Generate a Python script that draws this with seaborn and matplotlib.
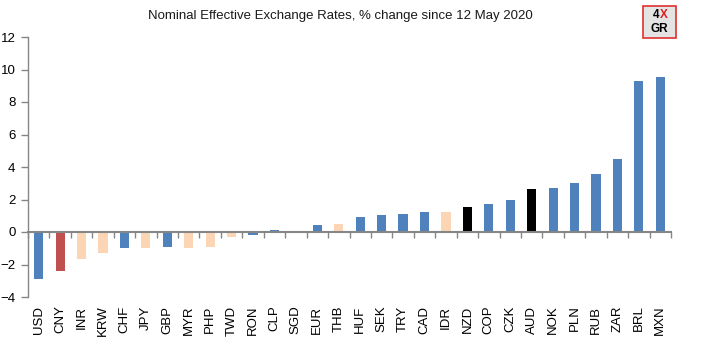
import matplotlib
matplotlib.use("Agg")
import matplotlib.pyplot as plt
import matplotlib.patches as mpatches
import seaborn as sns
import pandas as pd
import numpy as np

sns.set_theme(style="white")
plt.rcParams["font.family"] = ["Liberation Sans", "DejaVu Sans"]

currencies = ["USD", "CNY", "INR", "KRW", "CHF", "JPY", "GBP", "MYR", "PHP", "TWD",
              "RON", "CLP", "SGD", "EUR", "THB", "HUF", "SEK", "TRY", "CAD", "IDR",
              "NZD", "COP", "CZK", "AUD", "NOK", "PLN", "RUB", "ZAR", "BRL", "MXN"]
pct_change = [-2.92, -2.38, -1.64, -1.31, -0.96, -0.96, -0.90, -0.96, -0.90, -0.28,
              -0.16, 0.10, 0.08, 0.45, 0.51, 0.94, 1.07, 1.13, 1.23, 1.23,
              1.56, 1.74, 1.99, 2.67, 2.72, 3.03, 3.60, 4.52, 9.29, 9.54]
groups = ["g", "r", "a", "a", "g", "a", "g", "a", "a", "a",
          "g", "g", "a", "g", "a", "g", "g", "g", "g", "a",
          "k", "g", "g", "k", "g", "g", "g", "g", "g", "g"]
group_colors = {"g": "#4F81BD", "r": "#C0504D", "a": "#FCD5B4", "k": "#000000"}

df = pd.DataFrame({"ccy": currencies, "chg": pct_change, "grp": groups})

fig = plt.figure(figsize=(7.13, 3.42), dpi=100)
W, H = 713, 342
ax = fig.add_axes([28 / W, 1 - 297 / H, (671 - 28) / W, (297 - 37) / H])

sns.barplot(data=df, x="ccy", y="chg", hue="grp", palette=group_colors,
            dodge=False, width=0.43, legend=False, ax=ax, saturation=1,
            linewidth=0, edgecolor="none", zorder=2)

ax.set_ylim(-4, 12)
ax.set_xlim(-0.5, len(currencies) - 0.5)
ax.set_yticks(np.arange(-4, 13, 2))
ax.set_xlabel("")
ax.set_ylabel("")

axis_gray = "#868686"
for side in ["top", "right"]:
    ax.spines[side].set_visible(False)
ax.spines["left"].set_color(axis_gray)
ax.spines["left"].set_linewidth(1.0)
ax.spines["bottom"].set_position(("data", 0))
ax.spines["bottom"].set_color(axis_gray)
ax.spines["bottom"].set_linewidth(1.5)
ax.spines["bottom"].set_zorder(3)

ax.tick_params(axis="y", direction="out", length=5, width=1, color=axis_gray,
               labelsize=9.5, pad=4, labelcolor="black", left=True)
ax.set_xticks(np.arange(-0.5, len(currencies), 1.0), minor=True)
ax.tick_params(axis="x", which="minor", direction="out", length=4, width=1,
               color=axis_gray, bottom=True)
ax.tick_params(axis="x", which="major", length=0, pad=53, labelsize=9.5,
               labelrotation=90, labelcolor="black")
for lbl in ax.get_xticklabels():
    lbl.set_verticalalignment("top")

fig.text(340 / W, 1 - 16 / H, "Nominal Effective Exchange Rates, % change since 12 May 2020",
         ha="center", va="center", fontsize=9.5, color="#1a1a1a")

# small badge in the upper right corner
badge = mpatches.FancyBboxPatch((643 / W, 1 - 38 / H), 33 / W, 32 / H,
                                boxstyle="square,pad=0", transform=fig.transFigure,
                                facecolor="#E4E4E4", edgecolor="#E03030", linewidth=1.2)
fig.patches.append(badge)
fig.text(659.5 / W, 1 - 15 / H, "4", ha="right", va="center", fontsize=8.5,
         fontweight="bold", color="black")
fig.text(659.5 / W, 1 - 15 / H, "X", ha="left", va="center", fontsize=8.5,
         fontweight="bold", color="#E02020")
fig.text(659.5 / W, 1 - 29 / H, "GR", ha="center", va="center", fontsize=8.5,
         fontweight="bold", color="black")

fig.savefig("out.png", dpi=100)
